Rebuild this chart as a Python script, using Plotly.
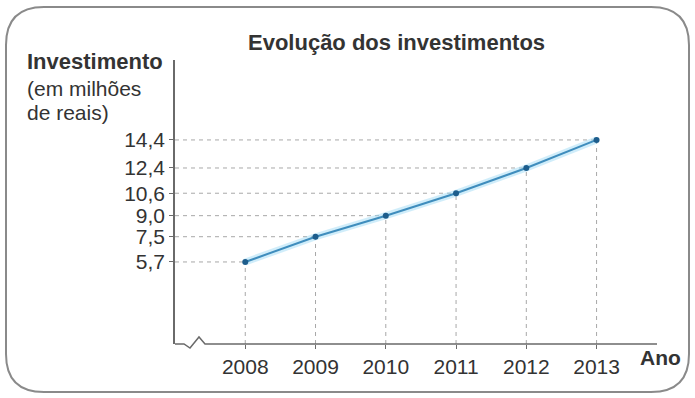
import plotly.graph_objects as go

years = [2008, 2009, 2010, 2011, 2012, 2013]
investimento = [5.7, 7.5, 9.0, 10.6, 12.4, 14.4]
y_tick_labels = ["5,7", "7,5", "9,0", "10,6", "12,4", "14,4"]
x_tick_labels = ["2008", "2009", "2010", "2011", "2012", "2013"]

X_RANGE = [2007.0, 2013.86]
Y_RANGE = [-0.15, 20.1]

W, H = 695, 398
ML, MR, MT, MB = 175, 38, 60, 54
PW, PH = W - ML - MR, H - MT - MB


def px(x):
    return (x - ML) / PW


def py(y):
    return (H - MB - y) / PH


TEXT = "#333333"
FONT = "Liberation Sans, Arial, sans-serif"
BIG = 22
TICK = 21

fig = go.Figure()

# soft glow under the line
fig.add_trace(go.Scatter(x=years, y=investimento, mode="lines",
                         line=dict(color="rgba(150,215,245,0.45)", width=7),
                         hoverinfo="skip", showlegend=False))
fig.add_trace(go.Scatter(x=years, y=investimento, mode="lines+markers",
                         line=dict(color="#3f8dbd", width=2),
                         marker=dict(color="#1d5d8c", size=6),
                         showlegend=False))

shapes = []
# dashed guides
for xv, yv in zip(years, investimento):
    shapes.append(dict(type="line", xref="x", yref="y", x0=X_RANGE[0], x1=xv, y0=yv, y1=yv,
                       line=dict(color="#a8a8a8", width=1, dash="4px,4px"), layer="below"))
    shapes.append(dict(type="line", xref="x", yref="y", x0=xv, x1=xv, y0=Y_RANGE[0], y1=yv,
                       line=dict(color="#a8a8a8", width=1, dash="4px,4px"), layer="below"))

# x axis line with break squiggle (pixel-based decoration)
pts = [(175, 344), (184, 344), (190, 348), (199, 337), (205, 344), (657, 344)]
path = "M " + " L ".join(f"{px(a)},{py(b)}" for a, b in pts)
shapes.append(dict(type="path", xref="paper", yref="paper", path=path,
                   line=dict(color="#6a6a6a", width=1.5)))

# rounded frame
x0, x1, y0, y1, r = 6, 689, 7, 392, 38
frame = [
    f"M {px(x0 + r)},{py(y0)}",
    f"L {px(x1 - r)},{py(y0)}",
    f"Q {px(x1)},{py(y0)} {px(x1)},{py(y0 + r)}",
    f"L {px(x1)},{py(y1 - r)}",
    f"Q {px(x1)},{py(y1)} {px(x1 - r)},{py(y1)}",
    f"L {px(x0 + r)},{py(y1)}",
    f"Q {px(x0)},{py(y1)} {px(x0)},{py(y1 - r)}",
    f"L {px(x0)},{py(y0 + r)}",
    f"Q {px(x0)},{py(y0)} {px(x0 + r)},{py(y0)} Z",
]
shapes.append(dict(type="path", xref="paper", yref="paper", path=" ".join(frame),
                   line=dict(color="#8a8a8a", width=2)))

annotations = [
    dict(text="<b>Evolução dos investimentos</b>", x=px(396), y=py(42), xref="paper", yref="paper",
         showarrow=False, font=dict(size=BIG, color=TEXT, family=FONT), xanchor="center", yanchor="middle"),
    dict(text="<b>Investimento</b>", x=px(25), y=py(61), xref="paper", yref="paper",
         showarrow=False, font=dict(size=BIG, color=TEXT, family=FONT), xanchor="left", yanchor="middle"),
    dict(text="(em milhões", x=px(25), y=py(88), xref="paper", yref="paper",
         showarrow=False, font=dict(size=BIG - 1, color=TEXT, family=FONT), xanchor="left", yanchor="middle"),
    dict(text="de reais)", x=px(25), y=py(112), xref="paper", yref="paper",
         showarrow=False, font=dict(size=BIG - 1, color=TEXT, family=FONT), xanchor="left", yanchor="middle"),
    dict(text="<b>Ano</b>", x=px(638), y=py(357), xref="paper", yref="paper",
         showarrow=False, font=dict(size=BIG - 1, color=TEXT, family=FONT), xanchor="left", yanchor="middle"),
]

fig.update_layout(
    width=W, height=H,
    margin=dict(l=ML, r=MR, t=MT, b=MB),
    paper_bgcolor="white", plot_bgcolor="white",
    shapes=shapes, annotations=annotations,
    xaxis=dict(range=X_RANGE, tickvals=years, ticktext=x_tick_labels, showgrid=False,
               zeroline=False, showline=False, ticks="outside", ticklen=4, tickcolor="#6a6a6a",
               tickfont=dict(size=TICK, color=TEXT, family=FONT)),
    yaxis=dict(range=Y_RANGE, tickvals=investimento, ticktext=y_tick_labels, showgrid=False,
               zeroline=False, showline=True, linecolor="#6a6a6a", linewidth=1.5,
               ticks="outside", ticklen=4, tickcolor="#6a6a6a",
               tickfont=dict(size=TICK, color=TEXT, family=FONT)),
)

fig.write_html("out.html")
